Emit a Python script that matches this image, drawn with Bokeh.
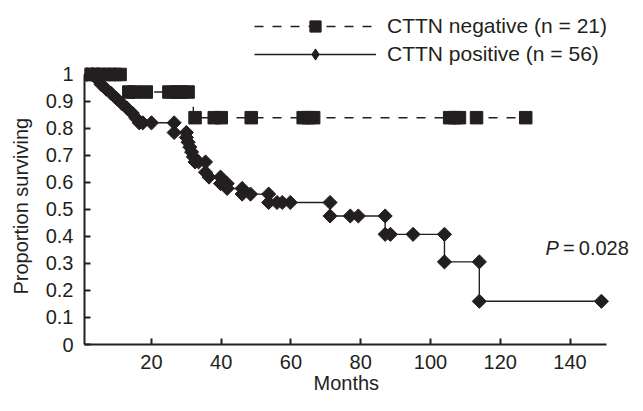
import numpy as np
from bokeh.plotting import figure
from bokeh.models import (Range1d, FixedTicker, CustomJSTickFormatter, Legend, LegendItem,
                          Label, Title)
from bokeh.embed import file_html
from bokeh.resources import INLINE

# ---------------- data ----------------
# CTTN negative (n=21): Kaplan-Meier steps
neg_times = [0, 12.2, 32.0, 127.3]
neg_surv = [1.0, 0.935, 0.84, 0.84]
# censor marks (squares)
neg_mark_t = [2.0, 3.5, 5.0, 6.5, 8.0, 9.5, 11.0,
              13.5, 15.0, 18.5, 25.0, 27.0, 28.5, 30.5,
              32.5, 38.0, 40.0, 48.6, 63.5, 65.0, 66.5,
              105.5, 107.0, 108.3, 113.2, 127.3]
neg_mark_s = [1.0, 1.0, 1.0, 1.0, 1.0, 1.0, 1.0,
              0.935, 0.935, 0.935, 0.935, 0.935, 0.935, 0.935,
              0.84, 0.84, 0.84, 0.84, 0.84, 0.84, 0.84,
              0.84, 0.84, 0.84, 0.84, 0.84]

# CTTN positive (n=56): Kaplan-Meier steps
pos_times = [0, 4.5, 5.5, 7.0, 8.5, 10.0, 11.5, 13.0, 14.5, 15.5, 16.5,
             26.5, 30.0, 30.5, 31.0, 31.5, 32.0, 32.5, 35.5, 36.5,
             39.8, 41.7, 46.0, 53.6, 71.2, 87.0, 104.0, 114.0, 149.0]
pos_surv = [1.0, 0.982, 0.964, 0.946, 0.929, 0.911, 0.893, 0.875, 0.857, 0.839, 0.821,
            0.785, 0.767, 0.749, 0.731, 0.713, 0.695, 0.676, 0.638, 0.620,
            0.596, 0.578, 0.557, 0.526, 0.476, 0.408, 0.306, 0.160, 0.160]
# diamond marks
pos_mark_t = [1.5, 3.0, 4.5, 4.5, 5.5, 7.0, 8.5, 10.0, 11.5, 13.0, 14.5, 15.5, 16.5,
              17.5, 20.0, 26.5, 26.5, 30.0, 30.0, 30.5, 31.0, 31.5, 32.0, 32.5,
              33.5, 35.5, 35.5, 36.5, 39.8, 39.8, 41.7, 41.7, 46.0, 46.0,
              48.4, 53.6, 53.6, 56.0, 57.5, 59.8, 71.2, 71.2, 77.0, 79.3,
              87.0, 87.0, 88.5, 95.0, 104.0, 104.0, 114.0, 114.0, 149.0]
pos_mark_s = [1.0, 1.0, 1.0, 0.982, 0.964, 0.946, 0.929, 0.911, 0.893, 0.875, 0.857, 0.839, 0.821,
              0.821, 0.821, 0.821, 0.785, 0.785, 0.767, 0.749, 0.731, 0.713, 0.695, 0.676,
              0.676, 0.676, 0.638, 0.620, 0.620, 0.596, 0.596, 0.578, 0.578, 0.557,
              0.557, 0.557, 0.526, 0.526, 0.526, 0.526, 0.526, 0.476, 0.476, 0.476,
              0.476, 0.408, 0.408, 0.408, 0.408, 0.306, 0.306, 0.160, 0.160]

x_ticks = [20, 40, 60, 80, 100, 120, 140]
y_ticks = [0, 0.1, 0.2, 0.3, 0.4, 0.5, 0.6, 0.7, 0.8, 0.9, 1.0]

labels = ["CTTN negative (n = 21)", "CTTN positive (n = 56)"]
p_value_text = "\u2009=\u20090.028"

# ---------------- styling ----------------
INK = "#231f20"
FONT = "Liberation Sans"
FS = "20px"
FS_LEG = "21px"

X0, X_AXIS_END, X1 = 0.8, 150.5, 158.2
Y_TOP = 1.274

p = figure(width=633, height=402, output_backend="svg", toolbar_location=None,
           x_range=Range1d(X0, X1), y_range=Range1d(0, Y_TOP),
           min_border_left=82, min_border_right=0, min_border_top=0, min_border_bottom=58)
p.outline_line_color = None
p.grid.visible = False

neg_line = p.step(neg_times, neg_surv, mode="after", line_color=INK, line_width=1.4,
                  line_dash="9 9")
neg_pts = p.scatter(neg_mark_t, neg_mark_s, marker="square", size=12.5,
                    fill_color=INK, line_color=INK)
pos_line = p.step(pos_times, pos_surv, mode="after", line_color=INK, line_width=1.4)
pos_pts = p.scatter(pos_mark_t, pos_mark_s, marker="square", angle=np.pi / 4, size=10,
                    fill_color=INK, line_color=INK)
# key marker for the legend (a diamond sitting under the last diamond mark)
pos_key = p.scatter(pos_mark_t[-1:], pos_mark_s[-1:], marker="diamond", size=11,
                    fill_color=INK, line_color=INK)

for ax in (p.xaxis[0], p.yaxis[0]):
    ax.axis_line_color = INK
    ax.axis_line_width = 2
    ax.major_tick_line_color = INK
    ax.major_tick_line_width = 2
    ax.major_tick_in = 6
    ax.major_tick_out = 0
    ax.minor_tick_line_color = None
    ax.major_label_text_font = FONT
    ax.major_label_text_font_size = FS
    ax.major_label_text_color = INK

p.xaxis.ticker = FixedTicker(ticks=x_ticks)
p.yaxis.ticker = FixedTicker(ticks=y_ticks)
p.yaxis.formatter = CustomJSTickFormatter(code="""
    if (Math.abs(tick) < 1e-9) return "0";
    if (Math.abs(tick - 1) < 1e-9) return "1";
    return tick.toFixed(1);
""")
p.yaxis.bounds = (0, 1)
p.xaxis.bounds = (X0, X_AXIS_END)
p.xaxis.major_label_standoff = 10
p.yaxis.major_label_standoff = 11

# axis titles, positioned along the drawn axis lines
p.add_layout(Title(text="Months", align="left", offset=229, vertical_align="top",
                   standoff=0, text_font=FONT, text_font_size=FS,
                   text_font_style="normal", text_color=INK), "below")
p.add_layout(Title(text="Proportion surviving", align="left", offset=50,
                   vertical_align="top", standoff=18, text_font=FONT, text_font_size=FS,
                   text_font_style="normal", text_color=INK), "left")

legend = Legend(items=[LegendItem(label=labels[0], renderers=[neg_line, neg_pts]),
                       LegendItem(label=labels[1], renderers=[pos_line, pos_key])],
                location=(170, 276), orientation="vertical",
                glyph_width=122, glyph_height=28, spacing=0, padding=0, margin=0,
                label_standoff=11, label_text_font=FONT, label_text_font_size=FS_LEG,
                label_text_color=INK, border_line_color=None, background_fill_alpha=0)
p.add_layout(legend)

P_X, P_Y = 133.0, 0.315
p.add_layout(Label(x=P_X, y=P_Y, text="P", text_font=FONT, text_font_size=FS,
                   text_font_style="italic", text_color=INK))
p.add_layout(Label(x=P_X, y=P_Y, x_offset=13.5, text=p_value_text, text_font=FONT,
                   text_font_size=FS, text_color=INK))

open("out.html", "w").write(file_html(p, INLINE))
